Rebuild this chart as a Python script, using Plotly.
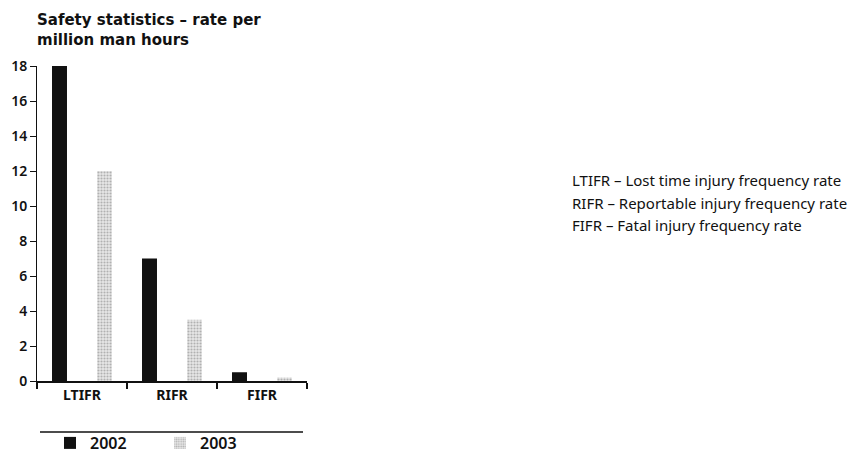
import plotly.graph_objects as go

categories = ["LTIFR", "RIFR", "FIFR"]
values_2002 = [18, 7, 0.5]
values_2003 = [12, 3.5, 0.2]
series_names = ["2002", "2003"]
y_ticks = [0, 2, 4, 6, 8, 10, 12, 14, 16, 18]
notes = [
    "LTIFR – Lost time injury frequency rate",
    "RIFR – Reportable injury frequency rate",
    "FIFR – Fatal injury frequency rate",
]
title_text = "Safety statistics – rate per<br>million man hours"

W, H = 855, 453
L, R, T, B = 37, 548, 66, 72
PW, PH = W - L - R, H - T - B

def px_x(X):
    return (X - L) / PW

def px_y(Y):
    return (H - B - Y) / PH

fig = go.Figure()
fig.add_bar(x=categories, y=values_2002, name=series_names[0],
            marker=dict(color="#111111", line=dict(width=0)))
fig.add_bar(x=categories, y=values_2003, name=series_names[1],
            marker=dict(color="#d9d9d9", line=dict(width=0),
                        pattern=dict(shape=".", fgcolor="#7a7a7a", bgcolor="#e8e8e8",
                                     size=3, solidity=0.4)))

fig.update_layout(
    width=W, height=H,
    margin=dict(l=L, r=R, t=T, b=B, autoexpand=False),
    paper_bgcolor="white", plot_bgcolor="white",
    barmode="group", bargap=0, bargroupgap=0.667,
    font=dict(family="Noto Sans", color="#111111"),
    showlegend=True,
    legend=dict(orientation="h", x=px_x(50), y=px_y(443), xanchor="left", yanchor="middle",
                entrywidth=65, entrywidthmode="pixels", borderwidth=0,
                font=dict(size=16, family="Noto Sans", weight=600),
                bgcolor="rgba(0,0,0,0)"),
)

fig.update_yaxes(range=[0, 18], tickvals=y_ticks, ticks="outside", ticklen=6, tickwidth=1,
                 tickcolor="#111", showline=True, linecolor="#111", linewidth=1,
                 showgrid=False, zeroline=False,
                 tickfont=dict(size=14, family="Noto Sans", weight=600), ticklabelstandoff=0)
fig.update_xaxes(tickson="boundaries", ticks="outside", ticklen=6, tickwidth=1.5,
                 tickcolor="#111", showline=True, linecolor="#111", linewidth=2,
                 showgrid=False, tickfont=dict(size=14, family="Noto Sans", weight=700))

fig.add_annotation(text=title_text, xref="paper", yref="paper", x=px_x(35), y=px_y(9),
                   xanchor="left", yanchor="top", align="left", showarrow=False,
                   font=dict(size=15, family="DejaVu Sans", weight=700))

for i, n in enumerate(notes):
    fig.add_annotation(text=n, xref="paper", yref="paper", x=px_x(570), y=px_y(180 + 22.5 * i),
                       xanchor="left", yanchor="middle", showarrow=False,
                       font=dict(size=15, family="Noto Sans"))

fig.add_shape(type="line", xref="paper", yref="paper", x0=px_x(40), x1=px_x(303),
              y0=px_y(432), y1=px_y(432), line=dict(color="#111", width=1.5))

fig.write_html("out.html", config={"displayModeBar": False},
               post_script="document.body.style.margin='0';document.body.style.overflow='hidden';")
